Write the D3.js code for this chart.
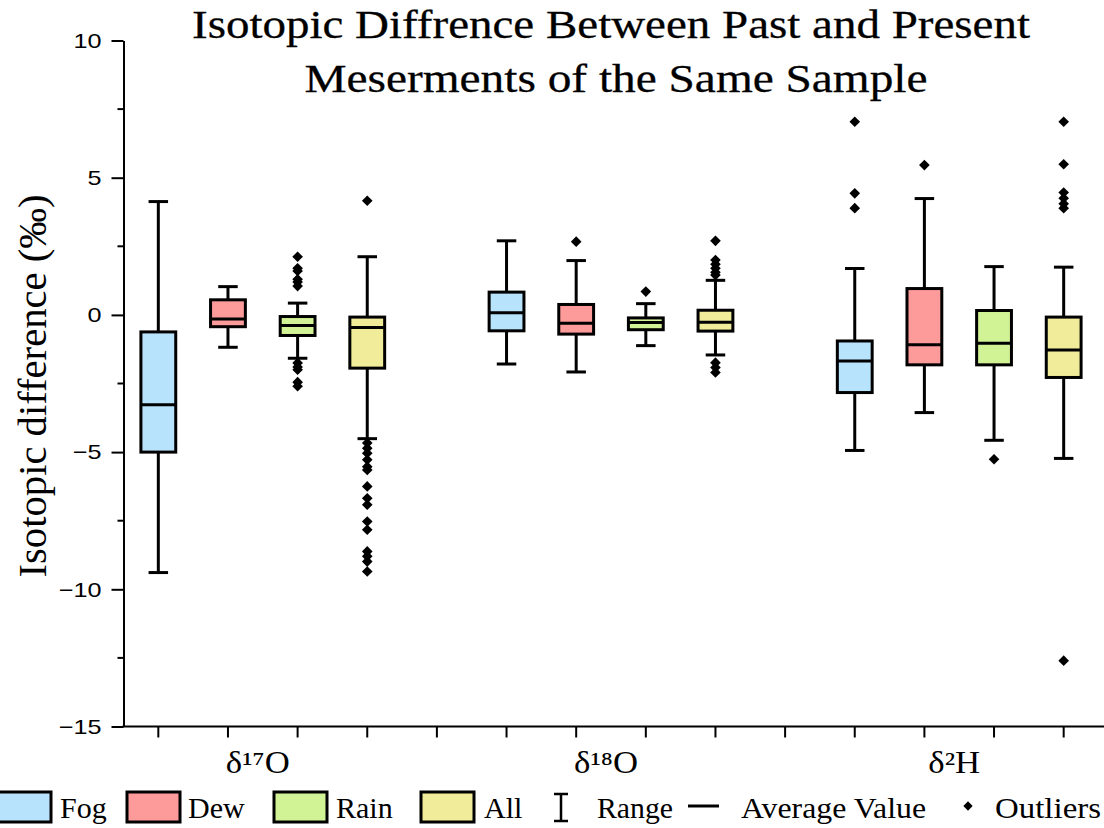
<!DOCTYPE html>
<html>
<head>
<meta charset="utf-8">
<script src="https://cdn.jsdelivr.net/npm/d3@7"></script>
<style>
  html, body { margin: 0; padding: 0; background: #fff; }
  svg { display: block; }
</style>
</head>
<body>
<svg id="chart" width="1104" height="828"></svg>
<script>
// ---------------- DATA ----------------
const categories = ["δ¹⁷O", "δ¹⁸O", "δ²H"];
const seriesNames = ["Fog", "Dew", "Rain", "All"];
const seriesColors = ["#b7e3fc", "#fd9a9a", "#d2f296", "#f1ec99"];

// whisker low, Q1, median, Q3, whisker high — one value per category
const fogLow    = [-9.39, -1.79, -4.94];
const fogQ1     = [-5.00, -0.58, -2.83];
const fogMedian = [-3.27,  0.08, -1.68];
const fogQ3     = [-0.62,  0.83, -0.95];
const fogHigh   = [ 4.13,  2.70,  1.69];
const fogOutliers = [[], [], [7.04, 4.43, 3.89]];

const dewLow    = [-1.18, -2.08, -3.56];
const dewQ1     = [-0.43, -0.70, -1.82];
const dewMedian = [-0.15, -0.30, -1.09];
const dewQ3     = [ 0.55,  0.38,  0.96];
const dewHigh   = [ 1.03,  1.98,  4.24];
const dewOutliers = [[], [2.67], [5.46]];

const rainLow    = [-1.58, -1.12, -4.57];
const rainQ1     = [-0.75, -0.54, -1.82];
const rainMedian = [-0.39, -0.28, -1.03];
const rainQ3     = [-0.06, -0.11,  0.16];
const rainHigh   = [ 0.43,  0.41,  1.76];
const rainOutliers = [
  [2.12, 1.70, 1.60, 1.30, 1.20, 1.05, -1.75, -1.90, -2.00, -2.45, -2.60],
  [0.85],
  [-5.26]
];

const allLow    = [-4.51, -1.46, -5.23];
const allQ1     = [-1.94, -0.59, -2.28];
const allMedian = [-0.46, -0.27, -1.28];
const allQ3     = [-0.08,  0.17, -0.08];
const allHigh   = [ 2.12,  1.26,  1.74];
const allOutliers = [
  [4.16, -4.67, -4.86, -5.04, -5.28, -5.53, -5.65, -6.25, -6.68, -6.92, -7.53, -7.83, -8.62, -8.80, -8.99, -9.35],
  [2.70, 2.00, 1.85, 1.70, 1.55, 1.45, -1.74, -1.92, -2.10],
  [7.04, 5.49, 4.46, 4.25, 4.05, 3.89, -12.6]
];

const yMajorTicks = [-15, -10, -5, 0, 5, 10];
const yMinorTicks = [-12.5, -7.5, -2.5, 2.5, 7.5];
const titleLines = ["Isotopic Diffrence Between Past and Present", "Meserments of the Same Sample"];
const yLabel = "Isotopic difference (‰)";
const legendExtras = ["Range", "Average Value", "Outliers"];

// ---------------- BUILD ----------------
const stats = [
  {low: fogLow,  q1: fogQ1,  med: fogMedian,  q3: fogQ3,  high: fogHigh,  out: fogOutliers},
  {low: dewLow,  q1: dewQ1,  med: dewMedian,  q3: dewQ3,  high: dewHigh,  out: dewOutliers},
  {low: rainLow, q1: rainQ1, med: rainMedian, q3: rainQ3, high: rainHigh, out: rainOutliers},
  {low: allLow,  q1: allQ1,  med: allMedian,  q3: allQ3,  high: allHigh,  out: allOutliers}
];

const boxes = [];
categories.forEach((c, ci) => {
  seriesNames.forEach((s, si) => {
    const st = stats[si];
    boxes.push({
      key: c + "|" + s, cat: c, series: s, color: seriesColors[si],
      low: st.low[ci], q1: st.q1[ci], med: st.med[ci], q3: st.q3[ci], high: st.high[ci],
      out: st.out[ci]
    });
  });
});

// slot keys: 4 boxes per category plus an empty gap slot between categories
const slots = [];
categories.forEach((c, ci) => {
  seriesNames.forEach(s => slots.push(c + "|" + s));
  if (ci < categories.length - 1) slots.push(c + "|gap");
});

const svg = d3.select("#chart");
const plotLeft = 123.5, plotRight = 1098.5, plotTop = 40.5, plotBottom = 726.5;

const x = d3.scaleBand().domain(slots).range([plotLeft, plotRight]).padding(0);
const y = d3.scaleLinear().domain([-15, 10]).range([plotBottom, plotTop]);

const serif = "Liberation Serif";
const sans = "Liberation Sans";

function fitWidth(sel, w) {
  sel.attr("textLength", w).attr("lengthAdjust", "spacingAndGlyphs");
}
function stretch(sel, f) {
  sel.each(function() { fitWidth(d3.select(this), this.getComputedTextLength() * f); });
}

// Title
svg.append("g").selectAll("text").data(titleLines).join("text")
  .attr("x", (d, i) => i === 0 ? 611 : 616)
  .attr("y", (d, i) => i === 0 ? 38 : 92)
  .attr("text-anchor", "middle")
  .attr("font-family", serif).attr("font-size", 41).attr("fill", "#000")
  .attr("stroke", "#000").attr("stroke-width", 0.3)
  .text(d => d)
  .each(function(d, i) { fitWidth(d3.select(this), i === 0 ? 838 : 623); });

// Y axis
const yAxis = d3.axisLeft(y).tickValues(yMajorTicks).tickSize(12).tickSizeOuter(0).tickPadding(10)
  .tickFormat(d3.format("d"));
const gy = svg.append("g").attr("transform", `translate(${plotLeft},0)`).call(yAxis);
gy.attr("font-family", null).attr("font-size", null);
gy.select(".domain").attr("stroke-width", 2);
gy.selectAll(".tick line").attr("stroke-width", 2);
gy.selectAll(".tick text").attr("font-family", sans).attr("font-size", 21).attr("fill", "#000")
  .call(stretch, 1.2);

svg.append("g").selectAll("line").data(yMinorTicks).join("line")
  .attr("x1", plotLeft - 6).attr("x2", plotLeft)
  .attr("y1", d => y(d)).attr("y2", d => y(d))
  .attr("stroke", "#000").attr("stroke-width", 2);

// X axis
const xAxis = d3.axisBottom(x).tickSize(11).tickSizeOuter(0).tickFormat("");
const gx = svg.append("g").attr("transform", `translate(0,${plotBottom})`).call(xAxis);
gx.select(".domain").remove();
gx.selectAll(".tick line").attr("stroke-width", 2);
svg.append("line").attr("x1", plotLeft - 1).attr("x2", 1104)
  .attr("y1", plotBottom).attr("y2", plotBottom)
  .attr("stroke", "#000").attr("stroke-width", 2);

// Group labels (slightly left of the group centre, as in the original)
svg.append("g").selectAll("text").data(categories).join("text")
  .attr("x", c => {
    const first = x(c + "|" + seriesNames[0]);
    const last = x(c + "|" + seriesNames[seriesNames.length - 1]) + x.bandwidth();
    return (first + last) / 2 - 5;
  })
  .attr("y", 773)
  .attr("text-anchor", "middle")
  .attr("font-family", serif).attr("font-size", 31).attr("fill", "#000")
  .text(d => d)
  .call(stretch, 1.12);

// Y label
svg.append("text")
  .attr("transform", "translate(46,386) rotate(-90)")
  .attr("text-anchor", "middle")
  .attr("font-family", serif).attr("font-size", 40).attr("fill", "#000")
  .text(yLabel)
  .call(s => fitWidth(s, 383));

// Boxes
const boxW = x.bandwidth() * 0.5;
const capW = x.bandwidth() * 0.28;
const sw = 3;
const gb = svg.append("g").selectAll("g").data(boxes).join("g")
  .attr("transform", d => `translate(${x(d.key) + x.bandwidth() / 2},0)`);

gb.append("line").attr("x1", 0).attr("x2", 0)
  .attr("y1", d => y(d.high)).attr("y2", d => y(d.q3))
  .attr("stroke", "#000").attr("stroke-width", sw);
gb.append("line").attr("x1", 0).attr("x2", 0)
  .attr("y1", d => y(d.q1)).attr("y2", d => y(d.low))
  .attr("stroke", "#000").attr("stroke-width", sw);
gb.append("line").attr("x1", -capW / 2).attr("x2", capW / 2)
  .attr("y1", d => y(d.high)).attr("y2", d => y(d.high))
  .attr("stroke", "#000").attr("stroke-width", sw);
gb.append("line").attr("x1", -capW / 2).attr("x2", capW / 2)
  .attr("y1", d => y(d.low)).attr("y2", d => y(d.low))
  .attr("stroke", "#000").attr("stroke-width", sw);
gb.append("rect")
  .attr("x", -boxW / 2).attr("width", boxW)
  .attr("y", d => y(d.q3)).attr("height", d => y(d.q1) - y(d.q3))
  .attr("fill", d => d.color).attr("stroke", "#000").attr("stroke-width", sw);
gb.append("line").attr("x1", -boxW / 2).attr("x2", boxW / 2)
  .attr("y1", d => y(d.med)).attr("y2", d => y(d.med))
  .attr("stroke", "#000").attr("stroke-width", sw);

const diamond = d3.symbol().type(d3.symbolDiamond2).size(72);
gb.selectAll("path.out").data(d => d.out).join("path").attr("class", "out")
  .attr("d", diamond)
  .attr("transform", v => `translate(0,${y(v)})`)
  .attr("fill", "#000");

// Legend
const lg = svg.append("g");
const swatchX = [-2, 127, 274, 421];
const legTextX = [60, 188, 336, 484];
const legFont = 30;
seriesNames.forEach((s, i) => {
  lg.append("rect").attr("x", swatchX[i]).attr("y", 792).attr("width", 53).attr("height", 30)
    .attr("fill", seriesColors[i]).attr("stroke", "#000").attr("stroke-width", 3);
  lg.append("text").attr("x", legTextX[i]).attr("y", 818)
    .attr("font-family", serif).attr("font-size", legFont).attr("fill", "#000").text(s);
});
// Range icon (I-beam)
lg.append("path").attr("d", "M554,794H568M561,794V821M554,821H568")
  .attr("stroke", "#000").attr("stroke-width", 2.5).attr("fill", "none");
lg.append("text").attr("x", 597).attr("y", 818).attr("font-family", serif).attr("font-size", legFont).attr("fill", "#000")
  .text(legendExtras[0]).call(fitWidth, 76);
lg.append("line").attr("x1", 688).attr("x2", 719).attr("y1", 806).attr("y2", 806)
  .attr("stroke", "#000").attr("stroke-width", 3);
lg.append("text").attr("x", 741).attr("y", 818).attr("font-family", serif).attr("font-size", legFont).attr("fill", "#000")
  .text(legendExtras[1]).call(fitWidth, 185);
lg.append("path").attr("d", diamond.size(55)).attr("transform", "translate(968,806)").attr("fill", "#000");
lg.append("text").attr("x", 995).attr("y", 818).attr("font-family", serif).attr("font-size", legFont).attr("fill", "#000")
  .text(legendExtras[2]).call(fitWidth, 106);
</script>
</body>
</html>
